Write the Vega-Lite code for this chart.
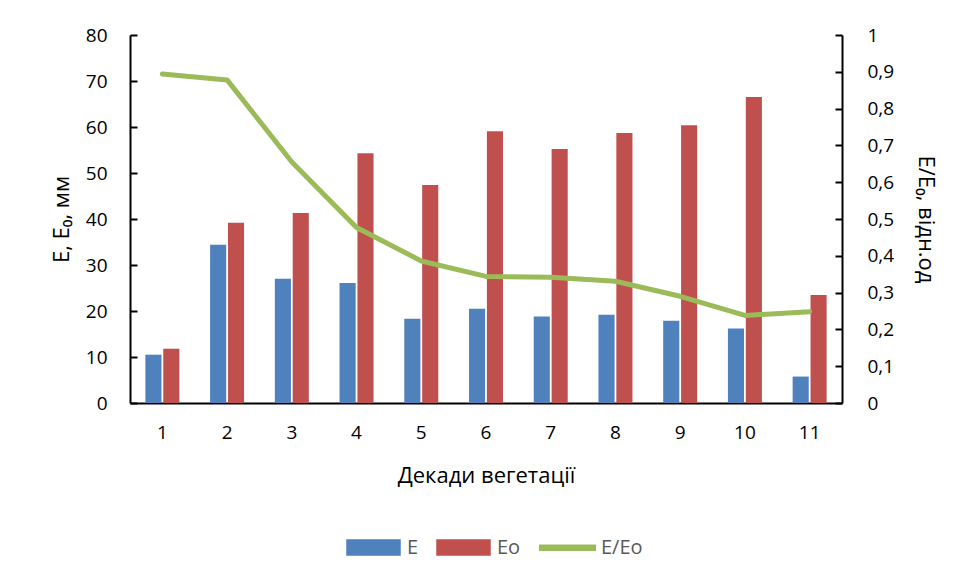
{
  "$schema": "https://vega.github.io/schema/vega-lite/v6.json",
  "width": 712,
  "height": 368,
  "autosize": {"type": "none"},
  "padding": {"left": 130, "top": 35, "right": 120, "bottom": 173},
  "background": "white",
  "config": {
    "font": "Open Sans",
    "view": {"stroke": null},
    "axis": {
      "labelFont": "Open Sans",
      "titleFont": "Open Sans",
      "labelFontSize": 19,
      "titleFontSize": 22,
      "labelColor": "#000000",
      "titleColor": "#000000",
      "titleFontWeight": "normal",
      "domainColor": "#000000",
      "domainWidth": 2,
      "tickColor": "#000000",
      "tickWidth": 2,
      "grid": false
    }
  },
  "data": {
    "values": [
      {"decade": 1, "E": 10.5, "Eo": 11.8, "ratio": 0.894},
      {"decade": 2, "E": 34.4, "Eo": 39.2, "ratio": 0.878},
      {"decade": 3, "E": 27.0, "Eo": 41.3, "ratio": 0.655},
      {"decade": 4, "E": 26.1, "Eo": 54.3, "ratio": 0.477},
      {"decade": 5, "E": 18.3, "Eo": 47.4, "ratio": 0.386},
      {"decade": 6, "E": 20.5, "Eo": 59.1, "ratio": 0.344},
      {"decade": 7, "E": 18.8, "Eo": 55.2, "ratio": 0.342},
      {"decade": 8, "E": 19.2, "Eo": 58.7, "ratio": 0.331},
      {"decade": 9, "E": 17.9, "Eo": 60.4, "ratio": 0.29},
      {"decade": 10, "E": 16.2, "Eo": 66.5, "ratio": 0.238},
      {"decade": 11, "E": 5.75, "Eo": 23.5, "ratio": 0.248}
    ]
  },
  "encoding": {
    "x": {
      "field": "decade",
      "type": "ordinal",
      "title": "Декади вегетації",
      "scale": {"paddingInner": 0.475, "paddingOuter": 0.2375},
      "axis": {"labelAngle": 0, "ticks": false, "labelPadding": 20, "titlePadding": 23}
    }
  },
  "layer": [
    {
      "transform": [{"fold": ["E", "Eo"], "as": ["series", "value"]}],
      "mark": {"type": "bar"},
      "encoding": {
        "xOffset": {"field": "series", "type": "nominal", "sort": ["E", "Eo"], "scale": {"paddingInner": 0.1, "paddingOuter": 0}},
        "y": {
          "field": "value",
          "type": "quantitative",
          "title": "E, E₀, мм",
          "scale": {"domain": [0, 80], "nice": false},
          "axis": {"orient": "left", "values": [0, 10, 20, 30, 40, 50, 60, 70, 80], "tickSize": -7, "labelPadding": 30, "titlePadding": 12}
        },
        "color": {
          "field": "series",
          "type": "nominal",
          "scale": {"domain": ["E", "Eo", "E/Eo"], "range": ["#4F81BD", "#C0504D", "#9BBB59"]},
          "legend": {
            "title": null,
            "orient": "none",
            "direction": "horizontal",
            "legendX": 216,
            "legendY": 485,
            "symbolSize": 2809,
            "symbolType": "M-1,-0.283H1V0.283H-1Z",
            "labelFont": "Open Sans",
            "labelFontSize": 20,
            "labelColor": "#595959",
            "labelOffset": 6,
            "columnPadding": 15,
            "encode": {
              "symbols": {
                "update": {
                  "shape": {"signal": "datum.value === 'E/Eo' ? 'M-1.05,-0.09H1.05V0.09H-1.05Z' : 'M-1,-0.283H1V0.283H-1Z'"},
                  "fill": {"scale": "color", "field": "value"},
                  "stroke": {"value": "transparent"},
                  "opacity": {"value": 1}
                }
              }
            }
          }
        }
      }
    },
    {
      "mark": {"type": "line", "strokeWidth": 5, "strokeCap": "round", "strokeJoin": "round"},
      "encoding": {
        "y": {
          "field": "ratio",
          "type": "quantitative",
          "title": "E/E₀,  відн.од",
          "scale": {"domain": [0, 1], "nice": false},
          "axis": {
            "orient": "right",
            "values": [0, 0.1, 0.2, 0.3, 0.4, 0.5, 0.6, 0.7, 0.8, 0.9, 1],
            "labelExpr": "replace(format(datum.value, '~g'), '.', ',')",
            "tickSize": -7,
            "labelPadding": 32,
            "titlePadding": 20
          }
        },
        "color": {"datum": "E/Eo", "type": "nominal"}
      }
    }
  ],
  "resolve": {"scale": {"y": "independent"}}
}
